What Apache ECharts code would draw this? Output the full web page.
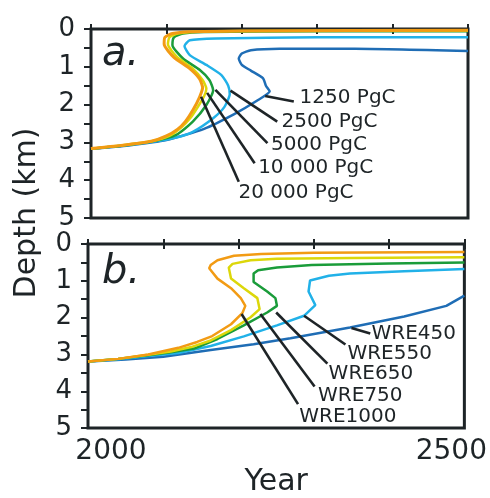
<!DOCTYPE html>
<html>
<head>
<meta charset="utf-8">
<script src="https://cdn.jsdelivr.net/npm/echarts@6/dist/echarts.min.js"></script>
<style>
  html, body, #main { width: 100%; height: 100%; margin: 0; background: #fff; }
</style>
</head>
<body>
<div id="main"></div>
<script>
// [year, depth km]
// panel a: emission pulses
var pgc1250 = [[2000,3.17],[2050,3.08],[2100,2.94],[2150,2.64],[2190,2.25],[2220,1.90],[2237,1.65],[2232,1.50],[2228,1.30],[2212,1.10],[2200,0.95],[2196,0.78],[2200,0.65],[2212,0.56],[2250,0.52],[2350,0.52],[2500,0.58]];
var pgc2500 = [[2000,3.17],[2040,3.09],[2080,2.99],[2113,2.87],[2135,2.72],[2162,2.36],[2177,2.06],[2184,1.72],[2182,1.50],[2173,1.22],[2153,0.95],[2131,0.69],[2124,0.45],[2131,0.30],[2166,0.25],[2300,0.22],[2500,0.22]];
var pgc5000 = [[2000,3.17],[2040,3.09],[2080,2.98],[2113,2.80],[2135,2.45],[2153,2.01],[2162,1.62],[2157,1.35],[2144,1.08],[2122,0.78],[2108,0.42],[2110,0.22],[2122,0.12],[2150,0.08],[2300,0.06],[2500,0.06]];
var pgc10000 = [[2000,3.17],[2040,3.08],[2080,2.97],[2104,2.83],[2120,2.60],[2132,2.35],[2142,2.05],[2150,1.78],[2153,1.58],[2148,1.35],[2135,1.05],[2114,0.74],[2102,0.40],[2104,0.22],[2115,0.12],[2140,0.07],[2200,0.05],[2500,0.04]];
var pgc20000 = [[2000,3.16],[2040,3.08],[2080,2.97],[2100,2.83],[2115,2.65],[2125,2.45],[2135,2.15],[2144,1.80],[2148,1.55],[2144,1.32],[2131,1.05],[2110,0.75],[2097,0.40],[2098,0.22],[2108,0.12],[2130,0.07],[2200,0.05],[2500,0.03]];

// panel b: WRE stabilisation scenarios
var wre450 = [[2000,3.19],[2050,3.14],[2100,3.06],[2163,2.88],[2220,2.72],[2269,2.56],[2348,2.27],[2420,1.97],[2476,1.68],[2500,1.40]];
var wre550 = [[2000,3.19],[2040,3.13],[2080,3.04],[2120,2.96],[2163,2.77],[2207,2.51],[2251,2.21],[2287,1.95],[2302,1.66],[2293,1.29],[2295,0.99],[2320,0.86],[2348,0.80],[2420,0.74],[2500,0.68]];
var wre650 = [[2000,3.19],[2040,3.12],[2080,3.02],[2110,2.94],[2141,2.84],[2172,2.58],[2207,2.21],[2238,1.86],[2251,1.68],[2249,1.47],[2238,1.29],[2220,1.03],[2220,0.80],[2226,0.71],[2251,0.64],[2297,0.57],[2400,0.53],[2500,0.50]];
var wre750 = [[2000,3.19],[2040,3.12],[2080,3.01],[2110,2.92],[2137,2.80],[2163,2.62],[2190,2.34],[2216,1.99],[2228,1.77],[2225,1.47],[2207,1.20],[2190,0.94],[2187,0.64],[2192,0.54],[2216,0.44],[2251,0.40],[2350,0.38],[2500,0.36]];
var wre1000 = [[2000,3.19],[2040,3.12],[2080,3.00],[2120,2.82],[2145,2.66],[2165,2.50],[2190,2.18],[2205,1.88],[2209,1.68],[2203,1.47],[2190,1.20],[2172,0.94],[2161,0.66],[2163,0.57],[2172,0.44],[2194,0.32],[2230,0.27],[2300,0.24],[2500,0.22]];

var colors = ['#1f6db5', '#21b1e8', '#1a9c3a', '#dcd70a', '#f29b14'];
var curvesA = [pgc1250, pgc2500, pgc5000, pgc10000, pgc20000];
var curvesB = [wre450, wre550, wre650, wre750, wre1000];

// leader lines: [start, end] and label anchor (left-middle of text)
var namesA = ['1250 PgC', '2500 PgC', '5000 PgC', '10 000 PgC', '20 000 PgC'];
var leadersA = [
  [[2231, 1.77], [2269, 1.92]],
  [[2185, 1.63], [2247, 2.45]],
  [[2165, 1.61], [2234, 3.02]],
  [[2154, 1.69], [2217, 3.55]],
  [[2146, 1.79], [2196, 4.04]]
];
var labelPosA = [[2276, 1.83], [2252, 2.46], [2238, 3.07], [2221, 3.68], [2195, 4.34]];

var namesB = ['WRE450', 'WRE550', 'WRE650', 'WRE750', 'WRE1000'];
var leadersB = [
  [[2350, 2.28], [2375, 2.43]],
  [[2287, 1.95], [2342, 2.73]],
  [[2250, 1.86], [2318, 3.25]],
  [[2229, 1.90], [2301, 3.87]],
  [[2204, 1.90], [2279, 4.35]]
];
var labelPosB = [[2376, 2.45], [2344, 2.99], [2319, 3.52], [2305, 4.13], [2280, 4.69]];

var ink = '#1e2427';
var font = 'DejaVu Sans';

var chart = echarts.init(document.getElementById('main'));

function xAx(grid, pos, withLabels) {
  var ax = {
    type: 'value', gridIndex: grid, position: pos,
    min: 2000, max: 2500, interval: 100,
    axisLine: { show: false },
    axisTick: { show: true, inside: false, length: 5, lineStyle: { color: ink, width: 2 } },
    splitLine: { show: false },
    axisLabel: { show: false }
  };
  if (withLabels) {
    ax.axisLabel = {
      show: true, margin: 10, color: ink, fontFamily: font, fontSize: 28,
      formatter: function (v) {
        if (v === 2000) return '{lo|2000}';
        if (v === 2500) return '{hi|2500}';
        return '';
      },
      rich: {
        lo: { fontFamily: font, fontSize: 28, color: ink, padding: [0, 0, 0, 46] },
        hi: { fontFamily: font, fontSize: 28, color: ink, padding: [0, 26, 0, 0] }
      }
    };
    ax.name = 'Year';
    ax.nameLocation = 'middle';
    ax.nameGap = 36;
    ax.nameTextStyle = { fontFamily: font, fontSize: 30, color: ink };
  }
  return ax;
}

function yAx(grid) {
  return {
    type: 'value', gridIndex: grid, inverse: true,
    min: 0, max: 5, interval: 0.5,
    axisLine: { show: false },
    axisTick: { show: true, inside: false, length: 7, lineStyle: { color: ink, width: 2 } },
    splitLine: { show: false },
    axisLabel: {
      show: true, margin: 16, color: ink, fontFamily: font, fontSize: 26,
      formatter: function (v) { return v % 1 === 0 ? String(v) : ''; }
    }
  };
}

var series = [];
curvesA.forEach(function (d, i) {
  series.push({
    type: 'line', xAxisIndex: 0, yAxisIndex: 0, data: d,
    showSymbol: false, smooth: 0.2, z: 2 + i,
    lineStyle: { color: colors[i], width: i === 4 ? 3 : 2.5 }
  });
});
curvesB.forEach(function (d, i) {
  series.push({
    type: 'line', xAxisIndex: 2, yAxisIndex: 1, data: d,
    showSymbol: false, z: 2 + i,
    lineStyle: { color: colors[i], width: 2.5 }
  });
});

function leaderSeries(leaders, xi, yi) {
  return {
    type: 'lines', coordinateSystem: 'cartesian2d', xAxisIndex: xi, yAxisIndex: yi,
    z: 10,
    data: leaders.map(function (c) { return { coords: c }; }),
    lineStyle: { color: ink, width: 2.6, opacity: 1 }
  };
}
function labelSeries(names, pos, xi, yi) {
  return {
    type: 'scatter', xAxisIndex: xi, yAxisIndex: yi, symbolSize: 1, z: 11,
    itemStyle: { color: 'transparent', opacity: 1 },
    data: pos.map(function (p, i) { return { name: names[i], value: p }; }),
    label: {
      show: true, position: 'right', distance: 0, formatter: '{b}',
      fontFamily: font, fontSize: 20, color: ink, opacity: 1
    }
  };
}
series.push(leaderSeries(leadersA, 0, 0));
series.push(leaderSeries(leadersB, 2, 1));
series.push(labelSeries(namesA, labelPosA, 0, 0));
series.push(labelSeries(namesB, labelPosB, 2, 1));

chart.setOption({
  animation: false,
  backgroundColor: '#fff',
  grid: [
    { left: 91, top: 29, width: 377, height: 189, show: true, borderColor: ink, borderWidth: 3, backgroundColor: 'transparent' },
    { left: 88, top: 244, width: 380, height: 191, show: true, borderColor: ink, borderWidth: 3, backgroundColor: 'transparent' }
  ],
  xAxis: [xAx(0, 'bottom', false), xAx(0, 'top', false), xAx(1, 'bottom', true), xAx(1, 'top', false)],
  yAxis: [yAx(0), yAx(1)],
  graphic: [
    { type: 'text', x: 102, y: 55, style: { text: 'a.', font: 'italic 40px "DejaVu Sans"', fill: ink, align: 'left', verticalAlign: 'middle' } },
    { type: 'text', x: 102, y: 273, style: { text: 'b.', font: 'italic 40px "DejaVu Sans"', fill: ink, align: 'left', verticalAlign: 'middle' } },
    { type: 'text', x: 27, y: 213, rotation: Math.PI / 2, style: { text: 'Depth (km)', font: '30px "DejaVu Sans"', fill: ink, align: 'center', verticalAlign: 'middle' } }
  ],
  series: series
});
</script>
</body>
</html>
